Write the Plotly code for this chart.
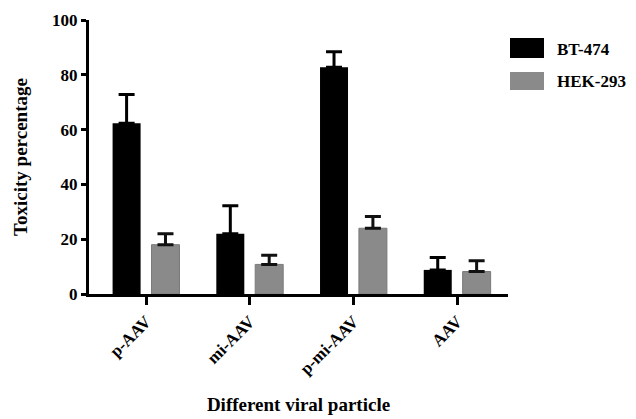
import plotly.graph_objects as go

categories = ["p-AAV", "mi-AAV", "p-mi-AAV", "AAV"]
bt474 = [62.3, 22.0, 82.8, 8.8]
bt474_err = [10.5, 10.2, 5.6, 4.5]
hek293 = [18.0, 10.8, 24.0, 8.2]
hek293_err = [4.0, 3.3, 4.3, 3.9]
y_ticks = [0, 20, 40, 60, 80, 100]
series_names = ["BT-474", "HEK-293"]
series_colors = ["#000000", "#8a8a8a"]

FONT = "Liberation Serif, Times New Roman, serif"

W, H = 636, 419
OFF = 8  # page body margin
# plot area in screen pixels: x 89..508, y 20..294
L = 89 - OFF
T = 20 - OFF
R = W - (508 - OFF)
B = H - (294 - OFF)
PW, PH = W - L - R, H - T - B

def px_x(p):
    return (p - OFF - L) / PW

def px_y(p):
    return (H - B - (p - OFF)) / PH

fig = go.Figure()
fig.add_trace(go.Bar(
    name=series_names[0], x=categories, y=bt474,
    marker=dict(color=series_colors[0], line=dict(width=0)),
    error_y=dict(type="data", array=bt474_err, arrayminus=[0] * 4, symmetric=False,
                 color="#000000", thickness=3, width=8),
))
fig.add_trace(go.Bar(
    name=series_names[1], x=categories, y=hek293,
    marker=dict(color=series_colors[1], line=dict(color="#7a7a7a", width=1)),
    error_y=dict(type="data", array=hek293_err, arrayminus=[0] * 4, symmetric=False,
                 color="#111111", thickness=3, width=8),
))

# legend drawn as paper-positioned swatches + labels
swatches = [(38, 58), (72, 90)]
for (y0, y1), name, col in zip(swatches, series_names, series_colors):
    fig.add_shape(type="rect", xref="paper", yref="paper",
                  x0=px_x(510), x1=px_x(544), y0=px_y(y1), y1=px_y(y0),
                  fillcolor=col, line=dict(width=0))
    fig.add_annotation(xref="paper", yref="paper", x=px_x(555), y=px_y((y0 + y1) / 2 + 1),
                       text=name, showarrow=False, xanchor="left", yanchor="middle",
                       font=dict(family=FONT, size=17, color="#000000", weight="bold"))

fig.update_layout(
    width=W, height=H,
    margin=dict(l=L, r=R, t=T, b=B),
    paper_bgcolor="white", plot_bgcolor="white",
    barmode="group", bargap=0.25, bargroupgap=0.28,
    font=dict(family=FONT, size=17, color="#000000", weight="bold"),
    showlegend=False,
)
fig.update_xaxes(
    range=[-0.55, 3.49], showline=True, linecolor="#000000", linewidth=3,
    ticks="outside", ticklen=8, tickwidth=3, tickcolor="#000000",
    tickangle=-45, showgrid=False, zeroline=False, automargin=False,
    tickfont=dict(family=FONT, size=17, weight="bold"),
    title=dict(text="Different viral particle", standoff=21,
               font=dict(family=FONT, size=19, weight="bold")),
)
fig.update_yaxes(
    range=[0, 100], tickvals=y_ticks, showline=True, linecolor="#000000", linewidth=3,
    ticks="outside", ticklen=5, tickwidth=3, tickcolor="#000000",
    showgrid=False, zeroline=False, automargin=False,
    tickfont=dict(family=FONT, size=17, weight="bold"),
    title=dict(text="Toxicity percentage", standoff=20,
               font=dict(family=FONT, size=19, weight="bold")),
)

fig.write_html("out.html")
